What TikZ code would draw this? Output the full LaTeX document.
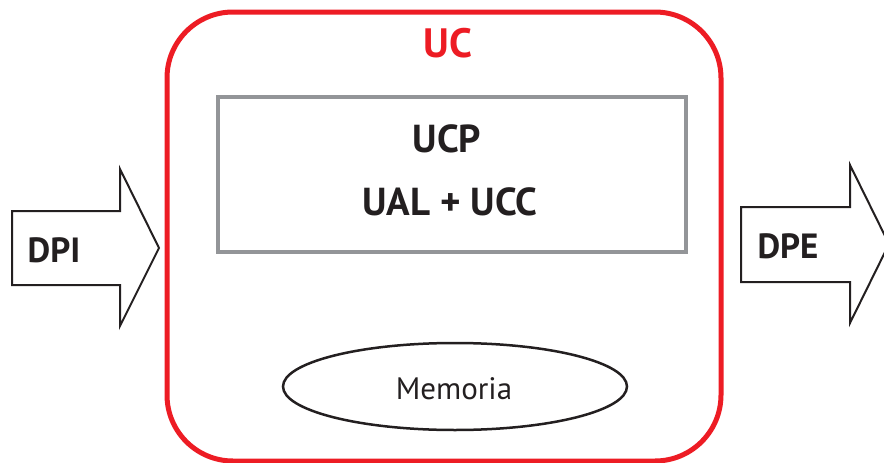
\documentclass[tikz,border=0pt]{standalone}
\usepackage{fontspec}
\setmainfont{PT Sans}
\usetikzlibrary{shapes.geometric}
\definecolor{rojo}{HTML}{ED1C24}
\definecolor{gris}{HTML}{939598}
\definecolor{negro}{HTML}{231F20}

\begin{document}
\begin{tikzpicture}[x=1pt, y=-1pt, inner sep=0pt, text=negro,
  flecha/.style={draw=negro, line width=2pt, fill=white, line join=miter},
  rotulo/.style={anchor=base, font=\fontsize{35}{35}\selectfont\bfseries},
  titulo/.style={anchor=base, font=\fontsize{39}{39}\selectfont\bfseries}]
  \useasboundingbox (0,0) rectangle (884,463);
  % unidad central
  \node[draw=rojo, line width=5pt, rounded corners=66pt, minimum width=554pt, minimum height=449pt] (uc) at (444,236.5) {};
  \node[anchor=base, text=rojo, font=\fontsize{41}{41}\selectfont\bfseries] (ucrot) at (448,57) {UC};
  \node[draw=gris, line width=4pt, minimum width=468pt, minimum height=155pt] (ucp) at (452,174.5) {};
  \node[titulo] (ucptxt) at (447,152) {UCP};
  \node[titulo] (ualtxt) at (450,215) {UAL + UCC};
  \node[draw=negro, line width=2.5pt, ellipse, minimum width=344pt, minimum height=87pt] (mem) at (455,386.5) {};
  \node[anchor=base, font=\fontsize{31}{31}\selectfont] (memtxt) at (454,399) {Memoria};
  % dispositivos
  \draw[flecha] (12,211) -- (120,211) -- (120,169) -- (159,248) -- (120,326) -- (120,285) -- (12,285) -- cycle;
  \node[rotulo] (dpi) at (54,262) {DPI};
  \draw[flecha] (741,207) -- (850,207) -- (850,165) -- (889,244) -- (850,323) -- (850,282) -- (741,282) -- cycle;
  \node[rotulo] (dpe) at (788,258) {DPE};
\end{tikzpicture}
\end{document}
